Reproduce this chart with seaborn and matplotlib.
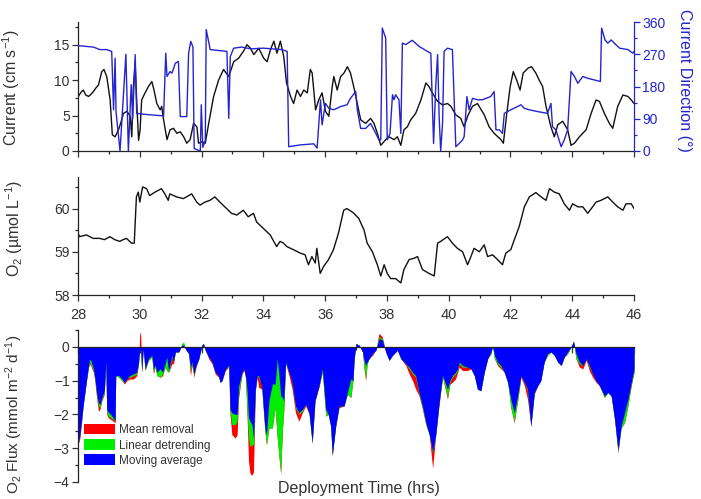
import matplotlib
matplotlib.use("Agg")
import matplotlib.pyplot as plt
from matplotlib.patches import Patch
from matplotlib.ticker import MultipleLocator
import seaborn as sns

sns.set_style("ticks")
plt.rcParams['font.family'] = ['Liberation Sans', 'DejaVu Sans']
plt.rcParams['mathtext.fontset'] = 'custom'
plt.rcParams['mathtext.rm'] = 'Liberation Sans'
plt.rcParams['mathtext.it'] = 'Liberation Sans'
plt.rcParams['mathtext.default'] = 'regular'

BLUE = '#2424cf'
TXT = '#333333'

# current speed (cm s-1)
speed_time = [28.01, 28.10, 28.17, 28.25, 28.34, 28.42, 28.50, 28.58, 28.66, 28.77, 28.84, 28.93,
              29.04, 29.11, 29.20, 29.31, 29.38, 29.47, 29.58, 29.69, 29.74, 29.79, 29.85, 29.90,
              29.96, 30.01, 30.06, 30.17, 30.28, 30.39, 30.46, 30.55, 30.66, 30.71, 30.77, 30.88,
              30.98, 31.09, 31.20, 31.31, 31.42, 31.52, 31.63, 31.74, 31.85, 31.90, 32.01, 32.12,
              32.23, 32.39, 32.55, 32.71, 32.88, 33.04, 33.20, 33.36, 33.47, 33.58, 33.69, 33.85,
              34.01, 34.12, 34.23, 34.34, 34.44, 34.55, 34.66, 34.75, 34.88, 34.98, 35.09, 35.20,
              35.31, 35.42, 35.52, 35.58, 35.69, 35.79, 35.90, 36.01, 36.12, 36.23, 36.28, 36.39,
              36.50, 36.61, 36.72, 36.82, 36.93, 37.04, 37.15, 37.31, 37.47, 37.58, 37.69, 37.80,
              37.96, 38.07, 38.23, 38.34, 38.45, 38.55, 38.66, 38.77, 38.93, 39.10, 39.26, 39.36,
              39.47, 39.64, 39.80, 39.96, 40.07, 40.23, 40.39, 40.50, 40.61, 40.77, 40.93, 41.15,
              41.31, 41.47, 41.69, 41.77, 41.88, 41.99, 42.09, 42.20, 42.31, 42.41, 42.57, 42.68,
              42.82, 42.93, 43.04, 43.15, 43.31, 43.42, 43.53, 43.69, 43.85, 43.96, 44.07, 44.23,
              44.45, 44.61, 44.77, 44.88, 45.04, 45.20, 45.31, 45.47, 45.64, 45.80, 45.91, 46.00]
speed = [7.7, 8.3, 8.6, 7.9, 7.7, 8.0, 8.4, 8.9, 9.3, 11.2, 11.5, 10.5,
         7.2, 2.3, 2.0, 3.0, 3.9, 5.3, 5.6, 4.9, 2.0, 9.0, 12.4, 7.0,
         1.5, 3.0, 7.2, 8.2, 9.1, 9.8, 8.6, 6.7, 5.8, 6.3, 4.4, 1.6,
         3.0, 3.2, 2.5, 2.7, 2.0, 1.1, 1.6, 3.9, 3.4, 1.1, 1.3, 1.1,
         3.9, 7.7, 10.0, 11.5, 10.5, 12.6, 13.1, 14.1, 15.0, 14.5, 13.6, 14.5,
         13.1, 12.6, 14.3, 15.5, 13.8, 15.5, 13.3, 9.6, 7.7, 6.7, 8.6, 7.7,
         8.6, 8.2, 11.5, 11.0, 5.8, 7.2, 8.2, 5.6, 4.9, 9.1, 10.5, 8.6,
         10.5, 11.0, 11.9, 11.0, 9.0, 6.7, 4.4, 3.9, 4.6, 3.9, 2.5, 0.8,
         1.6, 2.0, 1.6, 2.0, 0.8, 3.0, 3.4, 4.4, 5.3, 7.2, 9.6, 9.1,
         8.2, 7.0, 6.5, 6.7, 6.3, 5.1, 4.6, 3.4, 4.9, 6.3, 6.7, 5.1,
         3.4, 2.5, 1.6, 1.1, 5.3, 9.1, 11.2, 10.0, 8.6, 11.0, 11.7, 11.9,
         11.0, 10.0, 9.1, 6.3, 3.4, 2.0, 3.7, 4.2, 3.0, 0.8, 1.1, 2.0,
         3.0, 5.3, 7.2, 7.0, 5.3, 3.9, 3.2, 6.3, 7.9, 7.7, 7.2, 6.7]

# current direction (deg)
dir_time = [28.01, 28.50, 28.71, 28.93, 29.09, 29.15, 29.20, 29.23, 29.36, 29.55, 29.63, 29.72,
            29.77, 29.85, 29.90, 30.20, 30.50, 30.77, 30.84, 30.88, 30.98, 31.04, 31.15, 31.25,
            31.31, 31.52, 31.58, 31.65, 31.72, 31.76, 31.96, 31.99, 32.04, 32.12, 32.15, 32.28,
            32.82, 32.88, 32.93, 33.04, 33.30, 33.60, 34.00, 34.30, 34.60, 34.77, 34.82, 35.20,
            35.63, 35.74, 35.85, 35.90, 36.01, 36.12, 36.28, 36.50, 36.71, 36.82, 36.99, 37.04,
            37.15, 37.31, 37.47, 37.64, 37.74, 37.80, 37.85, 37.96, 38.01, 38.10, 38.18, 38.23,
            38.28, 38.39, 38.45, 38.50, 38.61, 38.82, 39.04, 39.31, 39.42, 39.51, 39.58, 39.64,
            39.69, 39.74, 39.80, 39.85, 39.96, 40.12, 40.23, 40.34, 40.45, 40.50, 40.59, 40.66,
            40.77, 40.93, 41.09, 41.36, 41.47, 41.53, 41.64, 41.74, 41.80, 42.01, 42.23, 42.34,
            42.45, 42.61, 42.88, 43.20, 43.31, 43.36, 43.47, 43.64, 43.74, 43.85, 43.96, 44.07,
            44.18, 44.34, 44.50, 44.72, 44.91, 44.95, 45.06, 45.15, 45.26, 45.36, 45.53, 45.80,
            45.96, 46.00]
direction = [294, 290, 283, 283, 278, 115, 259, 110, 0, 270, 0, 185,
             90, 269, 105, 102, 100, 98, 273, 208, 222, 217, 245, 250,
             96, 96, 273, 306, 290, 7, 0, 129, 10, 30, 339, 283,
             278, 91, 264, 287, 290, 285, 287, 285, 283, 278, 12, 17,
             20, 8, 143, 73, 133, 119, 115, 124, 129, 147, 166, 115,
             63, 63, 77, 49, 31, 31, 343, 315, 31, 49, 157, 143,
             157, 143, 49, 301, 297, 309, 292, 278, 273, 21, 180, 269,
             96, 0, 77, 278, 287, 283, 12, 21, 31, 40, 152, 115,
             147, 143, 143, 152, 166, 59, 59, 49, 105, 115, 124, 129,
             119, 115, 110, 105, 133, 68, 59, 12, 31, 59, 222, 208,
             189, 208, 203, 198, 194, 343, 310, 301, 310, 301, 287, 283,
             273, 278]

# dissolved oxygen (umol L-1)
o2_time = [28.00, 28.05, 28.27, 28.49, 28.70, 28.86, 29.03, 29.19, 29.35, 29.46, 29.57, 29.73,
           29.82, 29.89, 29.95, 30.00, 30.09, 30.22, 30.32, 30.49, 30.70, 30.81, 30.92, 30.97,
           31.19, 31.41, 31.68, 31.84, 31.95, 32.11, 32.27, 32.43, 32.59, 32.81, 32.97, 33.14,
           33.35, 33.51, 33.68, 33.78, 34.00, 34.22, 34.43, 34.54, 34.65, 34.76, 34.97, 35.19,
           35.35, 35.46, 35.57, 35.68, 35.73, 35.84, 35.95, 36.11, 36.27, 36.43, 36.60, 36.70,
           36.88, 36.93, 37.09, 37.26, 37.36, 37.53, 37.69, 37.80, 37.91, 38.01, 38.12, 38.28,
           38.45, 38.55, 38.72, 38.88, 38.99, 39.15, 39.36, 39.53, 39.64, 39.74, 39.96, 40.12,
           40.28, 40.45, 40.61, 40.72, 40.82, 40.99, 41.15, 41.26, 41.42, 41.58, 41.74, 41.85,
           42.01, 42.12, 42.28, 42.45, 42.61, 42.82, 42.99, 43.15, 43.26, 43.42, 43.58, 43.74,
           43.91, 44.01, 44.18, 44.34, 44.50, 44.66, 44.77, 44.93, 45.15, 45.31, 45.47, 45.64,
           45.74, 45.91, 46.00]
o2 = [59.43, 59.35, 59.39, 59.31, 59.31, 59.28, 59.35, 59.28, 59.24, 59.28, 59.31, 59.20,
      59.20, 60.27, 60.38, 60.15, 60.50, 60.46, 60.30, 60.38, 60.46, 60.34, 60.19, 60.34,
      60.27, 60.23, 60.34, 60.15, 60.08, 60.15, 60.19, 60.27, 60.15, 60.00, 59.89, 59.85,
      59.96, 59.81, 59.89, 59.69, 59.54, 59.39, 59.12, 59.24, 59.20, 59.12, 59.05, 58.97,
      58.93, 58.70, 58.89, 58.74, 59.08, 58.50, 58.66, 58.82, 59.05, 59.43, 59.96, 60.00,
      59.92, 59.89, 59.77, 59.50, 59.20, 59.00, 58.70, 58.44, 58.70, 58.50, 58.38, 58.38,
      58.28, 58.59, 58.82, 58.85, 58.89, 58.59, 58.50, 58.44, 59.20, 59.24, 59.35, 59.20,
      59.08, 59.00, 58.70, 58.89, 59.08, 59.00, 59.16, 58.89, 58.93, 58.82, 58.70, 58.97,
      59.05, 59.27, 59.58, 60.04, 60.27, 60.37, 60.27, 60.19, 60.46, 60.38, 60.34, 60.11,
      59.96, 60.11, 60.04, 60.04, 59.89, 60.04, 60.15, 60.19, 60.27, 60.15, 60.04, 59.96,
      60.11, 60.11, 60.00]

# O2 flux (mmol m-2 d-1) for three detrending methods
flux_time = [28.00, 28.06, 28.12, 28.17, 28.23, 28.28, 28.34, 28.39, 28.45, 28.50, 28.55, 28.60,
             28.66, 28.71, 28.77, 28.85, 28.90, 28.93, 28.98, 29.06, 29.14, 29.20, 29.22, 29.32,
             29.42, 29.50, 29.58, 29.68, 29.80, 29.90, 29.96, 30.00, 30.03, 30.06, 30.11, 30.17,
             30.28, 30.39, 30.44, 30.50, 30.55, 30.66, 30.74, 30.82, 30.87, 30.93, 31.04, 31.09,
             31.15, 31.26, 31.36, 31.42, 31.47, 31.58, 31.64, 31.69, 31.75, 31.82, 31.91, 32.01,
             32.06, 32.12, 32.23, 32.34, 32.44, 32.55, 32.60, 32.66, 32.77, 32.88, 32.92, 32.98,
             33.09, 33.15, 33.20, 33.31, 33.37, 33.42, 33.47, 33.52, 33.57, 33.63, 33.68, 33.74,
             33.80, 33.85, 33.95, 34.05, 34.10, 34.18, 34.29, 34.38, 34.45, 34.51, 34.56, 34.62,
             34.66, 34.72, 34.83, 34.93, 35.04, 35.15, 35.26, 35.37, 35.48, 35.58, 35.67, 35.80,
             35.91, 36.02, 36.10, 36.18, 36.23, 36.34, 36.45, 36.61, 36.72, 36.83, 36.90, 36.94,
             37.00, 37.10, 37.21, 37.26, 37.31, 37.36, 37.42, 37.53, 37.64, 37.72, 37.75, 37.85,
             37.96, 38.07, 38.18, 38.34, 38.45, 38.61, 38.72, 38.83, 38.93, 39.04, 39.15, 39.26,
             39.37, 39.48, 39.58, 39.69, 39.80, 39.90, 39.96, 40.04, 40.12, 40.22, 40.29, 40.34,
             40.45, 40.61, 40.72, 40.83, 40.93, 41.04, 41.15, 41.26, 41.37, 41.42, 41.48, 41.58,
             41.69, 41.80, 41.91, 42.01, 42.12, 42.23, 42.34, 42.45, 42.55, 42.66, 42.77, 42.88,
             42.98, 43.09, 43.20, 43.31, 43.42, 43.53, 43.64, 43.74, 43.85, 43.96, 44.04, 44.12,
             44.23, 44.34, 44.45, 44.55, 44.66, 44.77, 44.88, 45.04, 45.15, 45.26, 45.37, 45.48,
             45.58, 45.69, 45.80, 45.91, 46.00]
flux_moving = [-2.9, -2.6, -2.1, -1.7, -1.3, -0.95, -0.55, -0.35, -0.5, -0.65, -0.95, -1.35,
               -1.65, -1.7, -1.5, -1.3, -0.45, -1.85, -1.93, -2.0, -2.1, -2.2, -0.85, -0.85,
               -0.95, -1.05, -0.95, -0.85, -0.8, -0.75, -0.45, -0.05, -0.1, -0.75, -0.05, -0.65,
               -0.35, -0.25, -0.65, -0.55, -0.75, -0.65, -0.75, -0.5, -0.3, -0.7, -0.25, -0.45,
               -0.15, -0.15, 0.05, 0.05, -0.05, -0.2, -0.6, -0.45, -0.8, -0.55, -0.35, 0.05,
               0.1, -0.1, -0.3, -0.45, -0.75, -0.85, -1.05, -1.0, -0.65, -0.55, -1.85, -1.95,
               -2.0, -2.0, -1.15, -0.75, -0.65, -0.85, -1.25, -2.1, -2.2, -2.3, -2.7, -1.25,
               -0.85, -0.85, -1.2, -2.4, -2.6, -1.6, -1.1, -1.1, -0.35, -0.9, -1.45, -1.5,
               -1.6, -0.45, -0.75, -1.05, -1.75, -1.95, -1.85, -1.7, -1.95, -2.85, -1.6, -1.15,
               -0.65, -1.85, -2.0, -2.35, -3.2, -2.35, -1.75, -1.75, -1.35, -0.95, -1.0, -0.35,
               0.1, 0.05, -0.15, -0.4, -0.55, -0.45, -0.35, -0.2, -0.1, 0.15, 0.25, 0.2,
               -0.15, -0.4, -0.25, -0.1, -0.35, -0.5, -0.6, -0.75, -0.85, -1.35, -1.75, -2.25,
               -2.6, -3.1, -2.6, -1.65, -0.85, -1.1, -1.25, -1.0, -0.85, -0.75, -0.65, -0.45,
               -0.55, -0.6, -0.65, -0.85, -1.25, -1.3, -0.75, -0.35, -0.15, 0.03, -0.25, -0.45,
               -0.55, -0.75, -1.05, -1.55, -1.95, -1.45, -0.85, -1.05, -1.25, -2.35, -1.35, -1.15,
               -1.0, -0.45, -0.2, -0.15, -0.25, -0.45, -0.55, -0.3, -0.15, 0.0, 0.17, -0.2,
               -0.45, -0.55, -0.35, -0.55, -0.8, -1.0, -1.15, -1.45, -1.35, -1.45, -2.15, -3.05,
               -2.35, -1.95, -1.55, -1.05, -0.65]
flux_linear = [-2.9, -2.6, -2.1, -1.7, -1.3, -0.95, -0.6, -0.45, -0.6, -0.7, -1.0, -1.4,
               -1.75, -1.8, -1.55, -1.35, -0.45, -1.9, -2.05, -2.1, -2.15, -2.2, -0.85, -0.9,
               -1.0, -1.05, -0.95, -0.9, -0.85, -0.8, -0.45, 0.0, -0.05, -0.75, 0.05, -0.7,
               -0.4, -0.3, -0.75, -0.6, -0.85, -0.9, -0.8, -0.6, -0.7, -0.75, -0.3, -0.45,
               -0.15, -0.15, 0.1, 0.15, -0.05, -0.2, -0.7, -0.5, -0.85, -0.55, -0.35, 0.05,
               0.1, -0.1, -0.3, -0.45, -0.75, -0.85, -1.05, -1.0, -0.65, -0.6, -1.9, -2.3,
               -2.3, -2.2, -1.4, -0.75, -0.65, -0.9, -1.9, -2.7, -2.95, -2.9, -2.9, -1.3,
               -0.85, -0.9, -1.2, -2.5, -2.9, -2.4, -2.4, -1.8, -2.7, -3.3, -3.75, -2.4,
               -1.9, -0.5, -0.75, -1.05, -1.8, -2.0, -1.9, -1.7, -1.95, -2.85, -1.6, -1.15,
               -0.75, -2.05, -2.0, -2.35, -3.2, -2.35, -1.75, -1.75, -1.4, -1.5, -1.0, -0.35,
               0.1, 0.05, -0.15, -0.6, -0.95, -0.5, -0.35, -0.2, -0.1, 0.2, 0.3, 0.25,
               -0.15, -0.4, -0.25, -0.1, -0.35, -0.5, -0.65, -0.8, -0.9, -1.4, -1.8, -2.3,
               -2.6, -3.15, -2.6, -1.65, -0.9, -1.25, -1.5, -1.05, -0.9, -0.8, -0.7, -0.5,
               -0.6, -0.6, -0.65, -0.85, -1.25, -1.3, -0.75, -0.35, -0.2, 0.03, -0.35, -0.5,
               -0.6, -0.75, -1.05, -1.8, -2.2, -1.6, -0.85, -1.05, -1.3, -2.35, -1.35, -1.15,
               -1.0, -0.45, -0.25, -0.15, -0.25, -0.45, -0.55, -0.3, -0.2, 0.0, 0.17, -0.35,
               -0.5, -0.55, -0.35, -0.6, -0.8, -1.0, -1.15, -1.5, -1.35, -1.45, -2.15, -3.1,
               -2.4, -2.25, -1.75, -1.1, -0.75]
flux_mean = [-2.9, -2.7, -2.2, -1.7, -1.3, -0.95, -0.6, -0.5, -0.65, -0.75, -1.05, -1.5,
             -1.9, -1.85, -1.6, -1.4, -0.45, -2.0, -2.1, -2.15, -2.2, -2.25, -0.85, -0.9,
             -1.0, -1.1, -1.0, -0.95, -0.95, -0.85, -0.5, 0.45, 0.35, -0.75, -0.05, -0.7,
             -0.4, -0.3, -0.8, -0.6, -0.85, -0.9, -0.85, -0.6, -0.7, -0.75, -0.5, -0.5,
             -0.15, -0.15, 0.05, 0.1, -0.05, -0.2, -0.85, -0.55, -0.9, -0.6, -0.35, 0.05,
             0.1, -0.1, -0.35, -0.5, -0.8, -0.9, -1.05, -1.0, -0.7, -0.6, -2.0, -2.6,
             -2.7, -2.6, -1.5, -0.8, -0.7, -0.9, -2.0, -3.4, -3.75, -3.8, -3.7, -1.3,
             -0.9, -1.2, -1.25, -2.5, -2.9, -2.4, -2.4, -1.8, -2.7, -3.3, -3.75, -2.4,
             -1.9, -0.5, -0.85, -1.25, -1.95, -2.2, -1.95, -1.75, -2.0, -2.85, -1.6, -1.2,
             -0.75, -2.05, -2.0, -2.35, -3.25, -2.35, -1.8, -1.75, -1.4, -1.5, -1.0, -0.35,
             0.1, 0.05, -0.15, -0.65, -1.0, -0.5, -0.35, -0.25, -0.1, 0.3, 0.4, 0.3,
             -0.15, -0.4, -0.25, -0.1, -0.35, -0.55, -0.8, -1.0, -1.25, -1.45, -1.85, -2.3,
             -2.6, -3.6, -2.6, -1.7, -0.9, -1.3, -1.55, -1.1, -1.05, -0.95, -0.75, -0.6,
             -0.7, -0.7, -0.65, -0.85, -1.25, -1.3, -0.75, -0.35, -0.2, 0.03, -0.35, -0.55,
             -0.65, -0.75, -1.05, -1.8, -2.25, -1.6, -0.9, -1.15, -1.55, -2.35, -1.4, -1.15,
             -1.0, -0.45, -0.25, -0.15, -0.25, -0.45, -0.55, -0.3, -0.2, 0.0, 0.17, -0.35,
             -0.6, -0.65, -0.4, -0.7, -0.9, -1.05, -1.15, -1.5, -1.35, -1.45, -2.15, -3.15,
             -2.4, -2.25, -1.75, -1.15, -0.75]

flux_labels = ['Mean removal', 'Linear detrending', 'Moving average']
flux_colors = ['#ff0000', '#00ee00', '#0000ff']


def style_ticks(ax):
    ax.tick_params(axis='both', which='major', direction='out', length=4, width=0.9,
                   labelsize=10, colors=TXT, pad=2)
    ax.tick_params(axis='both', which='minor', direction='out', length=2.5, width=0.9)
    for s in ax.spines.values():
        s.set_linewidth(0.9)
        s.set_color('#222222')


fig = plt.figure(figsize=(7.01, 4.99), dpi=100)
left, width = 0.1113, 0.7932
ax1 = fig.add_axes([left, 0.6974, width, 0.2585])
ax2 = fig.add_axes([left, 0.4088, width, 0.2365])
ax3 = fig.add_axes([left, 0.0341, width, 0.3046])

# --- top: current speed + direction
sns.lineplot(x=speed_time, y=speed, ax=ax1, color='#111111', lw=1.0,
             estimator=None, errorbar=None, sort=False)
ax1.set_xlim(28, 46)
ax1.set_ylim(0, 18.2)
ax1.yaxis.set_major_locator(MultipleLocator(5))
ax1.yaxis.set_minor_locator(MultipleLocator(2.5))
ax1.xaxis.set_major_locator(MultipleLocator(2))
ax1.xaxis.set_minor_locator(MultipleLocator(1))
ax1.tick_params(axis='x', labelbottom=False)
style_ticks(ax1)
ax1.spines['top'].set_visible(False)
ax1.spines['right'].set_visible(False)
ax1.set_ylabel('Current (cm s$^{-1}$)', fontsize=11.5, color=TXT)
ax1.yaxis.set_label_coords(-0.10, 0.49)

ax1r = ax1.twinx()
sns.lineplot(x=dir_time, y=direction, ax=ax1r, color=BLUE, lw=1.0,
             estimator=None, errorbar=None, sort=False)
ax1r.set_ylim(0, 360)
ax1r.yaxis.set_major_locator(MultipleLocator(90))
ax1r.yaxis.set_minor_locator(MultipleLocator(45))
ax1r.tick_params(axis='y', which='major', direction='out', length=4, width=0.9,
                 labelsize=10, colors=BLUE, pad=2)
ax1r.tick_params(axis='y', which='minor', direction='out', length=2.5, width=0.9, colors=BLUE)
for name in ['top', 'left', 'bottom']:
    ax1r.spines[name].set_visible(False)
ax1r.spines['right'].set_visible(True)
ax1r.spines['right'].set_color(BLUE)
ax1r.spines['right'].set_linewidth(0.9)
ax1r.set_ylabel('Current Direction (°)', fontsize=11.5, color=BLUE, rotation=270)
ax1r.yaxis.set_label_coords(1.105, 0.55)

# --- middle: O2
sns.lineplot(x=o2_time, y=o2, ax=ax2, color='#111111', lw=1.0,
             estimator=None, errorbar=None, sort=False)
ax2.set_xlim(28, 46)
ax2.set_ylim(58, 60.73)
ax2.yaxis.set_major_locator(MultipleLocator(1))
ax2.yaxis.set_minor_locator(MultipleLocator(0.5))
ax2.xaxis.set_major_locator(MultipleLocator(2))
ax2.xaxis.set_minor_locator(MultipleLocator(1))
style_ticks(ax2)
ax2.tick_params(axis='x', labelsize=10.5, pad=5)
ax2.spines['top'].set_visible(False)
ax2.spines['right'].set_visible(False)
ax2.set_ylabel('O$_2$ (µmol L$^{-1}$)', fontsize=11.5, color=TXT)
ax2.yaxis.set_label_coords(-0.095, 0.56)

# --- bottom: flux
for series, col in zip([flux_mean, flux_linear, flux_moving], flux_colors):
    ax3.fill_between(flux_time, series, 0, color=col, lw=0)
ax3.set_xlim(28, 46)
ax3.set_ylim(-4, 0.5)
ax3.yaxis.set_major_locator(MultipleLocator(1))
ax3.yaxis.set_minor_locator(MultipleLocator(0.5))
ax3.xaxis.set_major_locator(MultipleLocator(2))
ax3.xaxis.set_minor_locator(MultipleLocator(1))
style_ticks(ax3)
ax3.tick_params(axis='x', labelbottom=False)
ax3.spines['bottom'].set_position(('data', 0))
ax3.spines['top'].set_visible(False)
ax3.spines['right'].set_visible(False)
ax3.set_ylabel('O$_2$ Flux (mmol m$^{-2}$ d$^{-1}$)', fontsize=11, color=TXT)
ax3.yaxis.set_label_coords(-0.095, 0.445)

handles = [Patch(facecolor=c, edgecolor='none') for c in flux_colors]
ax3.legend(handles, flux_labels, loc='lower left', bbox_to_anchor=(0.01, 0.1),
           frameon=False, fontsize=8.5, handlelength=2.7, handleheight=1.0,
           labelspacing=0.25, handletextpad=0.3, borderpad=0, borderaxespad=0,
           labelcolor=TXT)

fig.text(0.512, 1 - 488 / 499, 'Deployment Time (hrs)', ha='center', va='center',
         fontsize=11.5, color=TXT)

fig.savefig('out.png', dpi=100)
